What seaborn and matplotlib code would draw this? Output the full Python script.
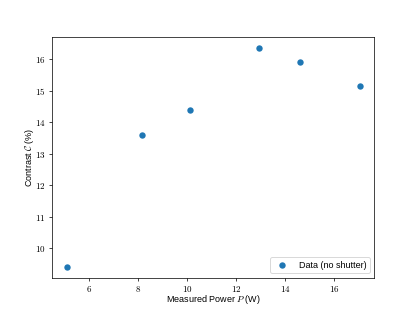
import matplotlib
matplotlib.use('Agg')
import matplotlib.pyplot as plt
import seaborn as sns
import pandas as pd
from matplotlib.ticker import FuncFormatter

# Datos
power = [5.09, 8.15, 10.13, 12.95, 14.62, 17.04]
contrast = [9.41, 13.58, 14.37, 16.34, 15.92, 15.14]

df = pd.DataFrame({'P': power, 'C': contrast})

plt.rcParams['mathtext.fontset'] = 'cm'
plt.rcParams['font.family'] = ['Liberation Sans', 'DejaVu Sans']

fig, ax = plt.subplots(figsize=(6.4, 4.8), dpi=65)
sns.scatterplot(data=df, x='P', y='C', ax=ax, color='#1f77b4', s=50,
                linewidth=0, label='Data (no shutter)')

ax.set_xlabel(r'Measured Power $P$ (W)', labelpad=-1.5)
ax.set_ylabel(r'Contrast $\mathcal{C}$ (%)', labelpad=-1.0)

math_fmt = FuncFormatter(lambda v, pos: r'$%g$' % v)
ax.xaxis.set_major_formatter(math_fmt)
ax.yaxis.set_major_formatter(math_fmt)

ax.legend(loc='lower right')

fig.savefig('out.png', dpi=65)
